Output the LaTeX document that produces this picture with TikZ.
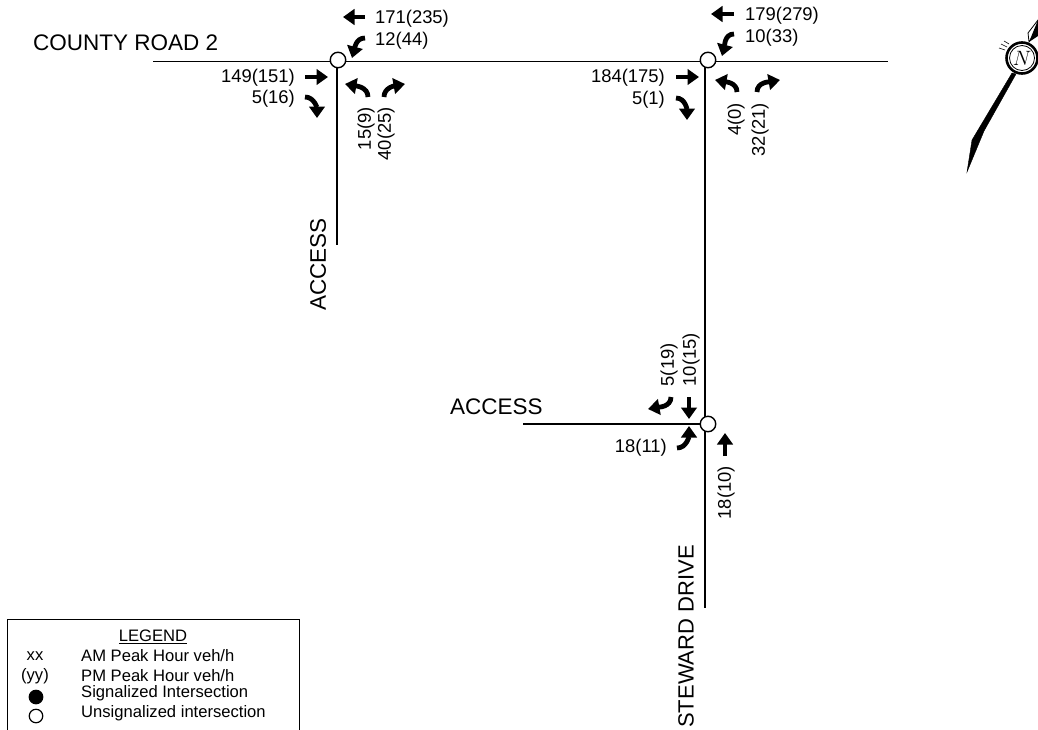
\documentclass[tikz,border=0pt]{standalone}
\usepackage{fontspec}
\setmainfont{Liberation Sans}
\usetikzlibrary{arrows.meta}
\tikzset{
  road/.style={line width=1.4pt,black},
  flow/.style={line width=4.8pt,black,-{Triangle[length=11.5pt,width=15.5pt]}},
  isect/.style={circle,draw=black,fill=white,line width=1.4pt,minimum size=15.5pt,inner sep=0pt},
  vol/.style={inner sep=0pt,font=\fontsize{18.4}{20}\selectfont},
  street/.style={inner sep=0pt,font=\fontsize{22.5}{24}\selectfont},
  leg/.style={inner sep=0pt,font=\fontsize{16.6}{18}\selectfont},
  keydot/.style={circle,draw=black,line width=1.2pt,minimum size=13.5pt,inner sep=0pt},
  needle/.style={fill=black,draw=black,line width=0.4pt},
}
\begin{document}
\begin{tikzpicture}[x=1pt,y=-1pt]
\useasboundingbox (0,0) rectangle (1038,729);
\clip (0,0) rectangle (1038,729);
% road ends
\coordinate (w1) at (153,61.5);
\coordinate (e2) at (888,61.5);
\coordinate (a1top) at (337,61.5);
\coordinate (a1end) at (337,245);
\coordinate (s2top) at (705,61.5);
\coordinate (s2end) at (705,608);
\coordinate (w3) at (523,424);
\coordinate (e3) at (705,424);
\draw[road] (w1) -- (e2);
\draw[road] (a1top) -- (a1end);
\draw[road] (s2top) -- (s2end);
\draw[road] (w3) -- (e3);
\node[isect] (i1) at (338,60) {};
\node[isect] (i2) at (708,60) {};
\node[isect] (i3) at (708,424) {};
% intersection 1 arrows
\draw[flow] (365,17) -- (343,17);
\draw[flow] (365,38) to[out=180,in=75] (352,58);
\draw[flow] (305,77) -- (328,77);
\draw[flow] (305,97) to[out=0,in=90] (317,118);
\draw[flow] (368,97) to[out=90,in=-10] (345,84);
\draw[flow] (384,97) to[out=90,in=190] (405,84);
% intersection 2 arrows
\draw[flow] (734,14) -- (711,14);
\draw[flow] (734,34) to[out=180,in=75] (722,56);
\draw[flow] (676,77) -- (699,77);
\draw[flow] (676,98) to[out=0,in=90] (687,120);
\draw[flow] (737,92) to[out=90,in=-10] (715,80);
\draw[flow] (757,92) to[out=90,in=190] (780,80);
% intersection 3 arrows
\draw[flow] (671,397) to[out=-90,in=10] (648,409);
\draw[flow] (689,397) -- (689,419);
\draw[flow] (677,448) to[out=0,in=-90] (689,426);
\draw[flow] (725,456) -- (725,433);
% volumes
\node[vol,anchor=west] (v1) at (375,18.5) {171(235)};
\node[vol,anchor=west] (v2) at (375,40.5) {12(44)};
\node[vol,anchor=east] (v3) at (295,78) {149(151)};
\node[vol,anchor=east] (v4) at (295,99) {5(16)};
\node[vol,anchor=east,rotate=90] (v5) at (366,107) {15(9)};
\node[vol,anchor=east,rotate=90] (v6) at (386,107) {40(25)};
\node[vol,anchor=west] (v7) at (745,15.5) {179(279)};
\node[vol,anchor=west] (v8) at (745,37.5) {10(33)};
\node[vol,anchor=east] (v9) at (665,78) {184(175)};
\node[vol,anchor=east] (v10) at (665,100) {5(1)};
\node[vol,anchor=east,rotate=90] (v11) at (736,103) {4(0)};
\node[vol,anchor=east,rotate=90] (v12) at (760,103) {32(21)};
\node[vol,anchor=west,rotate=90] (v13) at (669,386.5) {5(19)};
\node[vol,anchor=west,rotate=90] (v14) at (691,386.5) {10(15)};
\node[vol,anchor=east] (v15) at (667,448) {18(11)};
\node[vol,anchor=east,rotate=90] (v16) at (726,466) {18(10)};
% street names
\node[street,anchor=west] (n1) at (33,43) {COUNTY ROAD 2};
\node[street,anchor=east,rotate=90] (n2) at (318,218) {ACCESS};
\node[street,anchor=west] (n3) at (450,407) {ACCESS};
\node[street,anchor=east,rotate=90,font=\fontsize{22}{24}\selectfont] (n4) at (686,545) {STEWARD DRIVE};
% legend
\draw[line width=1pt] (7.5,735) -- (7.5,619) -- (299,619) -- (299,735);
\node[leg] (l0) at (153,637) {\underline{LEGEND}};
\node[leg] (l1) at (35,656) {xx};
\node[leg] (l2) at (35,676) {(yy)};
\node[keydot,fill=black] (l3) at (36,697) {};
\node[keydot,fill=white] (l4) at (36,716) {};
\node[leg,anchor=west] (l5) at (81,656) {AM Peak Hour veh/h};
\node[leg,anchor=west] (l6) at (81,676) {PM Peak Hour veh/h};
\node[leg,anchor=west] (l7) at (81,693) {Signalized Intersection};
\node[leg,anchor=west] (l8) at (81,713) {Unsignalized intersection};
% north arrow
\fill[needle] (1016,74) -- (984,131) -- (967,172) -- (972,140) -- (1012,73) -- cycle;
\fill[white,draw=black,line width=0.8pt] (1028,33) -- (1038,20) -- (1038,28) -- (1029,42) -- cycle;
\fill[black] (1038,20) -- (1029,42) -- (1038,36) -- cycle;
\draw[line width=0.6pt] (1005,50) -- (999,48);
\draw[line width=0.6pt] (1007,47) -- (1001,44);
\draw[line width=0.6pt] (1009,44) -- (1004,41);
\node[circle,draw=black,fill=white,line width=2.6pt,minimum size=31pt,inner sep=0pt] (c1) at (1022,58) {};
\node[circle,draw=black,line width=0.8pt,minimum size=25pt,inner sep=0pt,font=\fontsize{20}{22}\selectfont] (c2) at (1022,58) {$N$};
\end{tikzpicture}
\end{document}
